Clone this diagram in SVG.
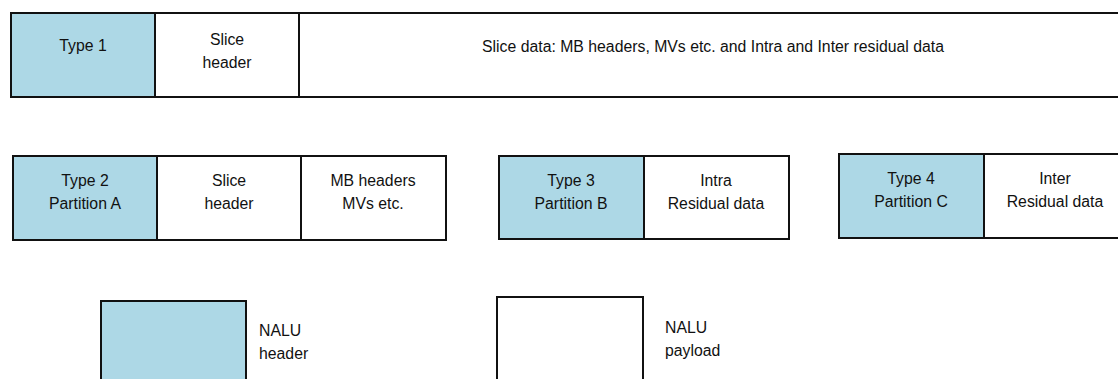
<svg xmlns="http://www.w3.org/2000/svg" width="1118" height="379" viewBox="0 0 1118 379">
  <style>
    .box { stroke: #111; stroke-width: 2; }
    .hdr { fill: #add8e6; }
    .pay { fill: #ffffff; }
    text { font-family: "Liberation Sans", Arial, sans-serif; font-size: 15.8px; fill: #111; }
    .c { text-anchor: middle; }
  </style>
  <rect width="1118" height="379" fill="#ffffff"/>

  <!-- Type 1: full slice in one NALU -->
  <g id="type1">
    <rect class="box hdr" x="11" y="13" width="144" height="84"/>
    <text class="c" x="83" y="51">Type 1</text>
  </g>
  <g id="type1-slice-header">
    <rect class="box pay" x="155" y="13" width="144" height="84"/>
    <text class="c" x="227" y="45">Slice</text>
    <text class="c" x="227" y="68">header</text>
  </g>
  <g id="type1-slice-data">
    <rect class="box pay" x="299" y="13" width="830" height="84"/>
    <text class="c" x="713" y="52">Slice data: MB headers, MVs etc. and Intra and Inter residual data</text>
  </g>

  <!-- Type 2: partition A -->
  <g id="type2">
    <rect class="box hdr" x="13" y="156" width="144" height="84"/>
    <text class="c" x="85" y="186">Type 2</text>
    <text class="c" x="85" y="209">Partition A</text>
  </g>
  <g id="type2-slice-header">
    <rect class="box pay" x="157" y="156" width="144" height="84"/>
    <text class="c" x="229" y="186">Slice</text>
    <text class="c" x="229" y="209">header</text>
  </g>
  <g id="type2-mb-headers">
    <rect class="box pay" x="301" y="156" width="145" height="84"/>
    <text class="c" x="373" y="186">MB headers</text>
    <text class="c" x="373" y="209">MVs etc.</text>
  </g>

  <!-- Type 3: partition B -->
  <g id="type3">
    <rect class="box hdr" x="499" y="156" width="145" height="83"/>
    <text class="c" x="571" y="186">Type 3</text>
    <text class="c" x="571" y="209">Partition B</text>
  </g>
  <g id="type3-intra">
    <rect class="box pay" x="644" y="156" width="145" height="83"/>
    <text class="c" x="716" y="186">Intra</text>
    <text class="c" x="716" y="209">Residual data</text>
  </g>

  <!-- Type 4: partition C -->
  <g id="type4">
    <rect class="box hdr" x="839" y="154" width="145" height="84"/>
    <text class="c" x="911" y="184">Type 4</text>
    <text class="c" x="911" y="207">Partition C</text>
  </g>
  <g id="type4-inter">
    <rect class="box pay" x="984" y="154" width="145" height="84"/>
    <text class="c" x="1055" y="184">Inter</text>
    <text class="c" x="1055" y="207">Residual data</text>
  </g>

  <!-- Legend -->
  <g id="legend-header">
    <rect class="box hdr" x="101" y="301" width="145" height="90"/>
    <text x="259" y="336">NALU</text>
    <text x="259" y="359">header</text>
  </g>
  <g id="legend-payload">
    <rect class="box pay" x="497" y="297" width="146" height="94"/>
    <text x="665" y="333">NALU</text>
    <text x="665" y="356">payload</text>
  </g>

  <g id="connectors"/>
</svg>
